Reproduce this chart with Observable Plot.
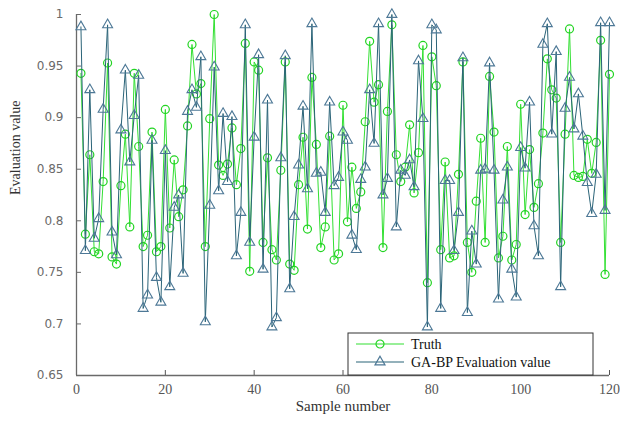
<!DOCTYPE html>
<html>
<head>
<meta charset="utf-8">
<script src="https://cdn.jsdelivr.net/npm/d3@7"></script>
<script src="https://cdn.jsdelivr.net/npm/@observablehq/plot@0.6"></script>
<style>
  html, body { margin: 0; padding: 0; background: #fff; }
  #chart { width: 620px; height: 421px; }
  g[aria-label="x-axis tick label"], g[aria-label="x-axis tick label"] text {
    font-family: "Liberation Serif", "Times New Roman", serif !important;
    font-size: 14px !important;
  }
  g[aria-label="y-axis tick label"], g[aria-label="y-axis tick label"] text {
    font-family: "DejaVu Sans", sans-serif !important;
    font-size: 12px !important;
  }
</style>
</head>
<body>
<div id="chart"></div>
<script>
// Sample numbers (x categories)
const samples = d3.range(1, 121);

// Truth series
const truth = [
  0.943, 0.787, 0.864, 0.770, 0.768, 0.838, 0.953, 0.765, 0.758, 0.834,
  0.884, 0.794, 0.943, 0.872, 0.775, 0.786, 0.886, 0.770, 0.775, 0.908,
  0.793, 0.859, 0.804, 0.830, 0.892, 0.971, 0.923, 0.933, 0.775, 0.899,
  1.000, 0.854, 0.844, 0.855, 0.890, 0.835, 0.870, 0.972, 0.751, 0.954,
  0.946, 0.779, 0.861, 0.772, 0.762, 0.849, 0.954, 0.758, 0.752, 0.835,
  0.881, 0.792, 0.939, 0.874, 0.774, 0.794, 0.882, 0.762, 0.768, 0.912,
  0.799, 0.852, 0.812, 0.828, 0.896, 0.974, 0.915, 0.932, 0.774, 0.906,
  0.990, 0.864, 0.838, 0.852, 0.893, 0.827, 0.866, 0.970, 0.740, 0.959,
  0.931, 0.772, 0.857, 0.764, 0.766, 0.845, 0.954, 0.779, 0.750, 0.819,
  0.880, 0.779, 0.940, 0.886, 0.764, 0.785, 0.872, 0.762, 0.777, 0.913,
  0.806, 0.869, 0.813, 0.836, 0.885, 0.957, 0.927, 0.919, 0.779, 0.884,
  0.986, 0.844, 0.842, 0.843, 0.879, 0.846, 0.876, 0.975, 0.748, 0.942
];

// GA-BP evaluation value series
const gabp = [
  0.988, 0.771, 0.927, 0.783, 0.802, 0.908, 0.990, 0.789, 0.767, 0.888,
  0.946, 0.857, 0.902, 0.941, 0.715, 0.728, 0.878, 0.745, 0.721, 0.868,
  0.736, 0.813, 0.825, 0.749, 0.906, 0.927, 0.910, 0.959, 0.702, 0.815,
  0.949, 0.829, 0.904, 0.838, 0.901, 0.766, 0.808, 0.990, 0.779, 0.881,
  0.961, 0.753, 0.917, 0.697, 0.706, 0.861, 0.960, 0.734, 0.804, 0.854,
  0.911, 0.831, 0.991, 0.846, 0.847, 0.808, 0.915, 0.834, 0.842, 0.886,
  0.878, 0.786, 0.772, 0.840, 0.852, 0.927, 0.875, 0.991, 0.825, 0.841,
  1.000, 0.794, 0.849, 0.844, 0.859, 0.833, 0.955, 0.899, 0.697, 0.990,
  0.985, 0.715, 0.839, 0.839, 0.771, 0.808, 0.958, 0.711, 0.790, 0.758,
  0.849, 0.850, 0.953, 0.849, 0.724, 0.820, 0.852, 0.753, 0.726, 0.871,
  0.851, 0.915, 0.795, 0.766, 0.971, 0.991, 0.884, 0.964, 0.736, 0.909,
  0.939, 0.889, 0.923, 0.882, 0.837, 0.807, 0.845, 0.992, 0.810, 0.992
];

// Axis ticks
const xTicks = [0, 20, 40, 60, 80, 100, 120];
const yTicks = [0.65, 0.7, 0.75, 0.8, 0.85, 0.9, 0.95, 1];
const yTickLabels = ["0.65", "0.7", "0.75", "0.8", "0.85", "0.9", "0.95", "1"];

const seriesNames = ["Truth", "GA-BP Evaluation value"];
const xTitle = "Sample number";
const yTitle = "Evaluation value";

const truthColor = "#33e033";
const truthMarker = "#22d422";
const gabpColor = "#2b6478";
const gabpMarker = "#4d7896";

const truthRows = samples.map((s, i) => ({s, v: truth[i]}));
const gabpRows = samples.map((s, i) => ({s, v: gabp[i]}));

const serif = "Liberation Serif, Times New Roman, serif";
const sans = "DejaVu Sans, sans-serif";

const svg = Plot.plot({
  width: 620,
  height: 421,
  marginLeft: 76,
  marginRight: 11,
  marginTop: 14,
  marginBottom: 46,
  style: {background: "#fff", overflow: "visible"},
  x: {domain: [0, 120]},
  y: {domain: [0.65, 1]},
  marks: [
    Plot.axisY(yTicks, {
      tickSize: -5, tickPadding: 18,
      tickFormat: d => yTickLabels[yTicks.indexOf(d)],
      color: "#6a6a6a", label: null
    }),
    Plot.axisX(xTicks, {
      tickSize: -5, tickPadding: 14,
      tickFormat: d => String(d),
      color: "#555", label: null
    }),
    Plot.ruleX([0], {stroke: "#6a6a6a", strokeWidth: 1.3}),
    Plot.ruleY([0.65], {stroke: "#6a6a6a", strokeWidth: 1.3}),
    Plot.line(truthRows, {x: "s", y: "v", stroke: truthColor, strokeWidth: 1}),
    Plot.dot(truthRows, {x: "s", y: "v", symbol: "circle", r: 4, stroke: truthMarker, fill: "none", strokeWidth: 1.2}),
    Plot.line(gabpRows, {x: "s", y: "v", stroke: gabpColor, strokeWidth: 1}),
    Plot.dot(gabpRows, {x: "s", y: "v", symbol: "triangle", r: 3.7, stroke: gabpMarker, fill: "none", strokeWidth: 1.1}),
    Plot.text([xTitle], {frameAnchor: "bottom", dy: 35, fill: "#333", fontFamily: serif, fontSize: 15}),
    Plot.text([yTitle], {frameAnchor: "left", dx: -61, rotate: -90, fill: "#333", fontFamily: serif, fontSize: 14})
  ]
});

// Fonts for the axis tick labels
const root = d3.select(svg);
root.selectAll("g[aria-label='y-axis tick label'] text").attr("font-family", sans).attr("font-size", 12);
root.selectAll("g[aria-label='x-axis tick label'] text").attr("font-family", serif).attr("font-size", 14);

// Legend box drawn inside the SVG
const g = root.append("g").attr("class", "legend").attr("text-anchor", "start");
g.append("rect").attr("x", 348).attr("y", 333).attr("width", 245).attr("height", 42)
  .attr("fill", "#fff").attr("stroke", "#333").attr("stroke-width", 1);
const entries = [
  {name: seriesNames[0], y: 344, line: truthColor, marker: truthMarker, sym: d3.symbolCircle, size: Math.PI * 16},
  {name: seriesNames[1], y: 362, line: gabpColor, marker: gabpMarker, sym: d3.symbolTriangle, size: Math.PI * 3.7 * 3.7}
];
for (const e of entries) {
  g.append("line").attr("x1", 356).attr("x2", 404).attr("y1", e.y).attr("y2", e.y)
    .attr("stroke", e.line).attr("stroke-width", 1.2);
  g.append("path").attr("d", d3.symbol(e.sym, e.size)()).attr("transform", `translate(380,${e.y})`)
    .attr("fill", "none").attr("stroke", e.marker).attr("stroke-width", 1.2);
  g.append("text").attr("x", 411).attr("y", e.y).attr("dy", "0.35em")
    .attr("text-anchor", "start")
    .attr("font-family", serif).attr("font-size", 14).attr("fill", "#111").text(e.name);
}

document.getElementById("chart").appendChild(svg);
</script>
</body>
</html>
